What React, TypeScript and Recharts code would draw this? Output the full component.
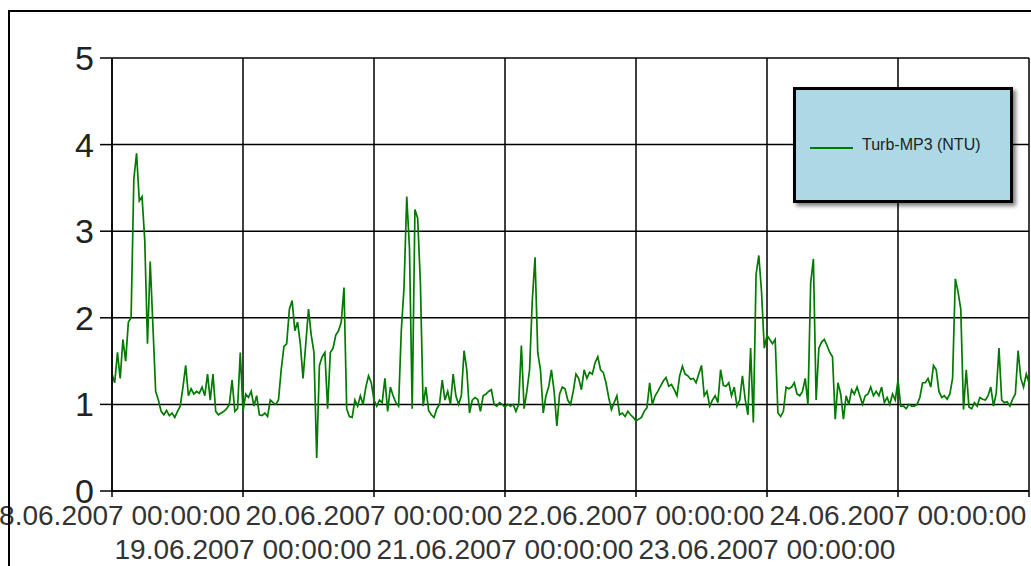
import React from 'react';
import { LineChart, Line, XAxis, YAxis, CartesianGrid, Legend } from 'recharts';

// ---- data (30-minute samples starting 18.06.2007 00:00:00) ----
const STEP_HOURS = 0.5;
const SERIES_NAME = 'Turb-MP3 (NTU)';

const day18 = [
  1.35, 1.25, 1.6, 1.3, 1.75, 1.5, 1.95, 2.0, 3.6, 3.9, 3.35, 3.4,
  2.9, 1.7, 2.65, 1.9, 1.15, 1.05, 0.92, 0.88, 0.93, 0.87, 0.9, 0.85,
  0.92, 0.98, 1.2, 1.45, 1.1, 1.18, 1.12, 1.15, 1.13, 1.2, 1.1, 1.35,
  1.05, 1.35, 0.92, 0.88, 0.9, 0.92, 0.95, 1.0, 1.28, 0.92, 0.95, 1.6,
];
const day19 = [
  0.92, 1.12, 1.08, 1.15, 0.98, 1.1, 0.88, 0.87, 0.9, 0.86, 1.05, 1.02,
  1.0, 1.05, 1.4, 1.67, 1.7, 2.1, 2.2, 1.85, 1.95, 1.7, 1.3, 1.7,
  2.1, 1.8, 1.6, 0.38, 1.45, 1.55, 1.6, 0.95, 1.6, 1.65, 1.8, 1.85,
  1.95, 2.35, 0.95, 0.86, 0.85, 1.05, 0.98, 1.1, 1.0, 1.2, 1.33, 1.25,
];
const day20 = [
  1.05, 0.98, 1.05, 1.02, 1.3, 0.92, 1.2, 1.1, 1.02, 0.98, 1.85, 2.35,
  3.4, 2.8, 0.95, 3.25, 3.15, 2.4, 0.98, 1.2, 0.93, 0.88, 0.85, 0.95,
  1.0, 1.28, 1.05, 1.15, 1.0, 1.35, 1.1, 1.0, 1.1, 1.62, 1.4, 0.9,
  1.05, 1.08, 1.06, 0.92, 1.1, 1.12, 1.15, 1.17, 1.0, 0.98, 1.02, 1.0,
];
const day21 = [
  0.97, 1.0, 0.98, 1.0, 0.92, 1.0, 1.68, 0.95, 1.15, 1.4, 2.2, 2.7,
  1.6, 1.4, 0.9, 1.1, 1.2, 1.4, 1.15, 0.75, 1.12, 1.2, 1.18, 1.05,
  1.0, 1.15, 1.35, 1.3, 1.17, 1.4, 1.3, 1.37, 1.35, 1.48, 1.55, 1.4,
  1.37, 1.25, 1.08, 0.94, 1.02, 1.1, 0.88, 0.9, 0.86, 0.92, 0.88, 0.85,
];
const day22 = [
  0.81, 0.83, 0.85, 0.92, 0.96, 1.25, 1.0, 1.1, 1.15, 1.21, 1.27, 1.31,
  1.21, 1.23, 1.17, 1.1, 1.33, 1.44, 1.35, 1.33, 1.29, 1.3, 1.25, 1.35,
  1.45, 1.1, 1.15, 0.98, 1.05, 1.1, 1.02, 1.4, 1.22, 1.21, 1.25, 1.1,
  1.2, 0.98, 1.05, 1.33, 1.06, 0.88, 1.65, 0.79, 2.5, 2.72, 2.3, 1.65,
];
const day23 = [
  1.8, 1.75, 1.7, 1.75, 0.9, 0.86, 0.92, 1.2, 1.18, 1.2, 1.25, 1.12,
  1.1, 1.15, 1.3, 1.0, 2.4, 2.68, 1.05, 1.65, 1.72, 1.75, 1.68, 1.6,
  1.55, 0.83, 1.25, 1.12, 0.83, 1.1, 1.0, 1.17, 1.12, 1.2, 1.1, 1.0,
  1.1, 1.12, 1.2, 1.1, 1.15, 1.1, 1.2, 1.02, 1.08, 1.0, 1.12, 1.05,
];
const day24 = [
  1.28, 0.98, 0.98, 0.95, 1.0, 0.98, 0.98, 1.0, 1.08, 1.25, 1.25, 1.3,
  1.2, 1.45, 1.4, 1.15, 1.08, 1.1, 1.06, 1.12, 1.3, 2.45, 2.3, 2.1,
  0.94, 1.4, 0.97, 0.95, 1.02, 0.98, 1.08, 1.06, 1.05, 1.1, 1.2, 0.98,
  1.13, 1.65, 1.05, 1.02, 1.03, 0.98, 1.06, 1.12, 1.62, 1.3, 1.2, 1.35,
  1.25,
];

const X_TICK_HOURS = [0, 24, 48, 72, 96, 120, 144, 168];
const X_TICK_LABELS = [
  '18.06.2007 00:00:00',
  '19.06.2007 00:00:00',
  '20.06.2007 00:00:00',
  '21.06.2007 00:00:00',
  '22.06.2007 00:00:00',
  '23.06.2007 00:00:00',
  '24.06.2007 00:00:00',
  '',
];
const Y_TICKS = [0, 1, 2, 3, 4, 5];

const allValues = [...day18, ...day19, ...day20, ...day21, ...day22, ...day23, ...day24];
const data = allValues.map((v, i) => ({ t: i * STEP_HOURS, turb: v }));

const FONT = '"Liberation Sans", Arial, Helvetica, sans-serif';
const LINE_COLOR = '#007a00';

const XTick = (props: any) => {
  const { x, y, payload } = props;
  const idx = X_TICK_HOURS.indexOf(payload.value);
  const label = X_TICK_LABELS[idx];
  if (!label) return <g />;
  const row = idx % 2;
  return (
    <text
      x={x}
      y={y + (row === 0 ? 28 : 62)}
      textAnchor="middle"
      fontSize={28}
      fontFamily={FONT}
      fill="#333"
    >
      {label}
    </text>
  );
};

const LegendBox = (props: any) => {
  const items = (props.payload || []).length
    ? props.payload
    : [{ value: SERIES_NAME, color: LINE_COLOR }];
  return (
    <div
      style={{
        boxSizing: 'border-box',
        width: 220,
        height: 116,
        background: '#add8e6',
        border: '3px solid #000',
        boxShadow: '3px 3px 4px rgba(0,0,0,0.5)',
        display: 'flex',
        flexDirection: 'column',
        justifyContent: 'center',
        fontFamily: FONT,
      }}
    >
      {items.map((it: any) => (
        <div key={it.value} style={{ display: 'flex', alignItems: 'center' }}>
          <div
            style={{
              marginLeft: 14,
              width: 43,
              height: 2,
              marginTop: 5,
              background: it.color || LINE_COLOR,
            }}
          />
          <span style={{ marginLeft: 9, fontSize: 16, color: '#222' }}>{it.value}</span>
        </div>
      ))}
    </div>
  );
};

export default function App() {
  return (
    <div style={{ position: 'absolute', left: 0, top: 0, width: 1031, height: 566, overflow: 'hidden' }}>
      <LineChart
        width={1031}
        height={566}
        data={data}
        margin={{ top: 58, right: 2, bottom: 0, left: 0 }}
      >
        <CartesianGrid stroke="#000" strokeWidth={1.5} />
        <XAxis
          dataKey="t"
          type="number"
          domain={[0, 168]}
          ticks={X_TICK_HOURS}
          interval={0}
          height={75}
          tickSize={6}
          tickMargin={0}
          axisLine={{ stroke: '#000', strokeWidth: 1.5 }}
          tickLine={{ stroke: '#000', strokeWidth: 1.5 }}
          tick={<XTick />}
        />
        <YAxis
          type="number"
          domain={[0, 5]}
          ticks={Y_TICKS}
          interval={0}
          width={112}
          tickSize={12}
          tickMargin={6}
          axisLine={{ stroke: '#000', strokeWidth: 1.5 }}
          tickLine={{ stroke: '#000', strokeWidth: 1.5 }}
          tick={{ fontSize: 34, fill: '#222', fontFamily: FONT }}
        />
        <Legend
          layout="horizontal"
          align="center"
          verticalAlign="middle"
          content={<LegendBox />}
          wrapperStyle={{ left: 793, top: 87, width: 220, height: 116 }}
        />
        <Line
          type="linear"
          dataKey="turb"
          name={SERIES_NAME}
          stroke={LINE_COLOR}
          strokeWidth={1.7}
          dot={false}
          isAnimationActive={false}
        />
      </LineChart>
      <div
        style={{
          position: 'absolute',
          left: 8,
          top: 10,
          width: 1023,
          height: 556,
          boxSizing: 'border-box',
          borderLeft: '2px solid #000',
          borderTop: '2px solid #000',
          pointerEvents: 'none',
        }}
      />
    </div>
  );
}
